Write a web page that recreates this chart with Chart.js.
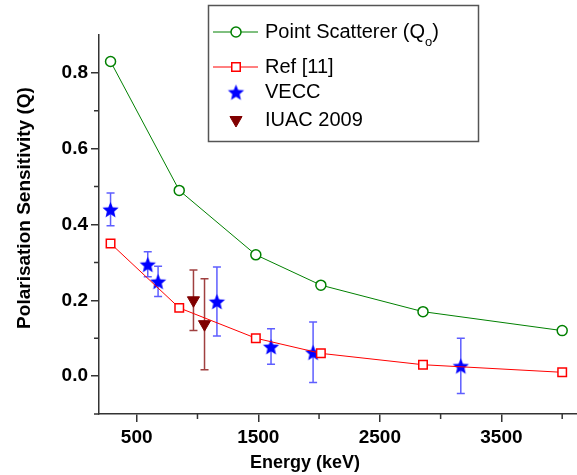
<!DOCTYPE html>
<html>
<head>
<meta charset="utf-8">
<script src="https://cdn.jsdelivr.net/npm/chart.js@4.4.1/dist/chart.umd.min.js"></script>
<style>
  html, body { margin: 0; padding: 0; background: #fff; overflow: hidden; }
  #wrap { position: relative; width: 586px; height: 475px; }
</style>
</head>
<body>
<div id="wrap"><canvas id="polChart"></canvas></div>
<script>
/* polarisation sensitivity vs gamma energy */

const energyCalc  = [285, 850, 1480, 2015, 2855, 4000];
const qPoint      = [0.83, 0.49, 0.32, 0.24, 0.17, 0.12];
const qRef        = [0.35, 0.18, 0.10, 0.06, 0.03, 0.01];

const energyVecc  = [285, 591, 676, 1160, 1605, 1951, 3166];
const qVecc       = [0.44, 0.295, 0.25, 0.197, 0.078, 0.063, 0.027];
const errVecc     = [0.043, 0.033, 0.040, 0.091, 0.047, 0.080, 0.073];

const energyIuac  = [967, 1058];
const qIuac       = [0.200, 0.137];
const errIuac     = [0.080, 0.120];

const xTicks      = [500, 1500, 2500, 3500];
const xMinorTicks = [1000, 2000, 3000, 4000];
const yTicks      = [0.0, 0.2, 0.4, 0.6, 0.8];
const yMinorTicks = [-0.1, 0.1, 0.3, 0.5, 0.7];

const labels = ['Point Scatterer (Q_o)', 'Ref [11]', 'VECC', 'IUAC 2009'];

const FONT = "'Liberation Sans', Arial, sans-serif";
const AXIS = '#333';

const pts = (xs, ys) => xs.map((x, i) => ({ x, y: ys[i] }));

/* filled 5-point star used as a point style */
function makeStar(color, R) {
  const s = Math.ceil(R * 2 + 2);
  const c = document.createElement('canvas');
  c.width = c.height = s;
  const g = c.getContext('2d');
  g.fillStyle = color;
  g.beginPath();
  for (let i = 0; i < 10; i++) {
    const r = i % 2 ? R * 0.45 : R;
    const a = -Math.PI / 2 + i * Math.PI / 5;
    g.lineTo(s / 2 + r * Math.cos(a), s / 2 + 1 + r * Math.sin(a));
  }
  g.closePath();
  g.fill();
  return c;
}
const starImg = makeStar('#0000ff', 8.5);

/* ── error bars, drawn from each dataset's errors array ── */
const errorBars = {
  id: 'errorBars',
  beforeDatasetsDraw(chart) {
    const { ctx, scales: { x, y } } = chart;
    chart.data.datasets.forEach(ds => {
      if (!ds.errors) return;
      ctx.save();
      ctx.strokeStyle = ds.errColor;
      ctx.lineWidth = 1.5;
      ds.data.forEach((p, i) => {
        const px = x.getPixelForValue(p.x);
        const top = y.getPixelForValue(p.y + ds.errors[i]);
        const bot = y.getPixelForValue(p.y - ds.errors[i]);
        ctx.beginPath();
        ctx.moveTo(px, top); ctx.lineTo(px, bot);
        ctx.moveTo(px - 4, top); ctx.lineTo(px + 4, top);
        ctx.moveTo(px - 4, bot); ctx.lineTo(px + 4, bot);
        ctx.stroke();
      });
      ctx.restore();
    });
  }
};

/* ── minor ticks + axis titles ── */
const axisExtras = {
  id: 'axisExtras',
  afterDraw(chart) {
    const { ctx, chartArea: a, scales: { x, y } } = chart;
    ctx.save();
    ctx.strokeStyle = AXIS;
    ctx.lineWidth = 1.5;
    ctx.beginPath();
    xMinorTicks.forEach(v => {
      const px = x.getPixelForValue(v);
      ctx.moveTo(px, a.bottom); ctx.lineTo(px, a.bottom + 5);
    });
    yMinorTicks.forEach(v => {
      const py = y.getPixelForValue(v);
      ctx.moveTo(a.left, py); ctx.lineTo(a.left - 5, py);
    });
    ctx.stroke();

    ctx.fillStyle = '#000';
    ctx.textAlign = 'center';
    ctx.textBaseline = 'middle';
    ctx.font = 'bold 18px ' + FONT;
    ctx.fillText('Energy (keV)', 305, 463);
    ctx.translate(25, 208);
    ctx.rotate(-Math.PI / 2);
    ctx.font = 'bold 19px ' + FONT;
    ctx.fillText('Polarisation Sensitivity (Q)', 0, 0);
    ctx.restore();
  }
};

/* ── boxed legend, Origin style ── */
const legendRows = [{ y: 32, line: true }, { y: 67, line: true }, { y: 92 }, { y: 120 }];
const boxLegend = {
  id: 'boxLegend',
  afterDraw(chart) {
    const ctx = chart.ctx;
    ctx.save();
    ctx.fillStyle = '#fff';
    ctx.fillRect(208.5, 5.5, 270, 136);
    ctx.strokeStyle = '#555';
    ctx.lineWidth = 1.5;
    ctx.strokeRect(208.5, 5.5, 270, 136);

    chart.data.datasets.forEach((ds, i) => {
      const row = legendRows[i];
      const mx = 236;
      if (row.line) {
        ctx.strokeStyle = ds.borderColor;
        ctx.lineWidth = ds.borderWidth;
        ctx.beginPath();
        ctx.moveTo(213, row.y); ctx.lineTo(258, row.y);
        ctx.stroke();
      }
      ctx.fillStyle = ds.pointBackgroundColor;
      ctx.strokeStyle = ds.pointBorderColor;
      ctx.lineWidth = ds.pointBorderWidth;
      Chart.helpers.drawPoint(ctx, {
        pointStyle: ds.pointStyle, rotation: ds.pointRotation || 0,
        radius: ds.pointRadius, borderWidth: ds.pointBorderWidth
      }, mx, row.y);

      // label, with "_x" as a subscript
      ctx.fillStyle = '#000';
      ctx.textAlign = 'left';
      ctx.textBaseline = 'middle';
      ctx.font = '20px ' + FONT;
      const [main, rest] = ds.label.split('_');
      let tx = 265;
      ctx.fillText(main, tx, row.y);
      if (rest) {
        tx += ctx.measureText(main).width;
        ctx.font = '13px ' + FONT;
        ctx.textBaseline = 'alphabetic';
        ctx.fillText(rest[0], tx, row.y + 14);
        tx += ctx.measureText(rest[0]).width;
        ctx.font = '20px ' + FONT;
        ctx.textBaseline = 'middle';
        ctx.fillText(rest.slice(1), tx, row.y);
      }
    });
    ctx.restore();
  }
};

new Chart(document.getElementById('polChart'), {
  type: 'scatter',
  data: {
    datasets: [
      {
        label: labels[0], data: pts(energyCalc, qPoint), showLine: true,
        borderColor: '#008000', borderWidth: 1,
        pointStyle: 'circle', pointRadius: 5, pointBorderWidth: 1.5,
        pointBorderColor: '#008000', pointBackgroundColor: '#fff'
      },
      {
        label: labels[1], data: pts(energyCalc, qRef), showLine: true,
        borderColor: '#ff0000', borderWidth: 1,
        pointStyle: 'rect', pointRadius: 6, pointBorderWidth: 1.5,
        pointBorderColor: '#ff0000', pointBackgroundColor: '#fff'
      },
      {
        label: labels[2], data: pts(energyVecc, qVecc), showLine: false,
        errors: errVecc, errColor: 'rgba(40,40,255,0.75)',
        pointStyle: starImg, pointRadius: 8, pointBorderWidth: 0,
        pointBorderColor: '#0000ff', pointBackgroundColor: '#0000ff'
      },
      {
        label: labels[3], data: pts(energyIuac, qIuac), showLine: false,
        errors: errIuac, errColor: 'rgba(128,0,0,0.75)',
        pointStyle: 'triangle', pointRotation: 180, pointRadius: 7, pointBorderWidth: 1,
        pointBorderColor: '#800000', pointBackgroundColor: '#800000'
      }
    ]
  },
  options: {
    responsive: true, maintainAspectRatio: false,
    animation: false,
    layout: { padding: { top: 35, right: 0, bottom: 0, left: 0 } },
    plugins: { legend: { display: false }, tooltip: { enabled: false } },
    scales: {
      x: {
        type: 'linear', min: 190, max: 4130,
        afterBuildTicks: s => { s.ticks = xTicks.map(v => ({ value: v })); },
        afterFit: s => { s.height = 61; },
        ticks: { color: '#000', padding: 4, font: { family: FONT, size: 19, weight: 'bold' }, callback: v => String(v) },
        grid: { drawOnChartArea: false, drawTicks: true, tickLength: 8, color: AXIS, lineWidth: 1.5 },
        border: { color: AXIS, width: 1.5 }
      },
      y: {
        min: -0.1, max: 0.9,
        afterBuildTicks: s => { s.ticks = yTicks.map(v => ({ value: v })); },
        afterFit: s => { s.width = 99; },
        ticks: { color: '#000', padding: 3, font: { family: FONT, size: 19, weight: 'bold' }, callback: v => v.toFixed(1) },
        grid: { drawOnChartArea: false, drawTicks: true, tickLength: 8, color: AXIS, lineWidth: 1.5 },
        border: { color: AXIS, width: 1.5 }
      }
    }
  },
  plugins: [errorBars, axisExtras, boxLegend]
});
</script>
</body>
</html>
